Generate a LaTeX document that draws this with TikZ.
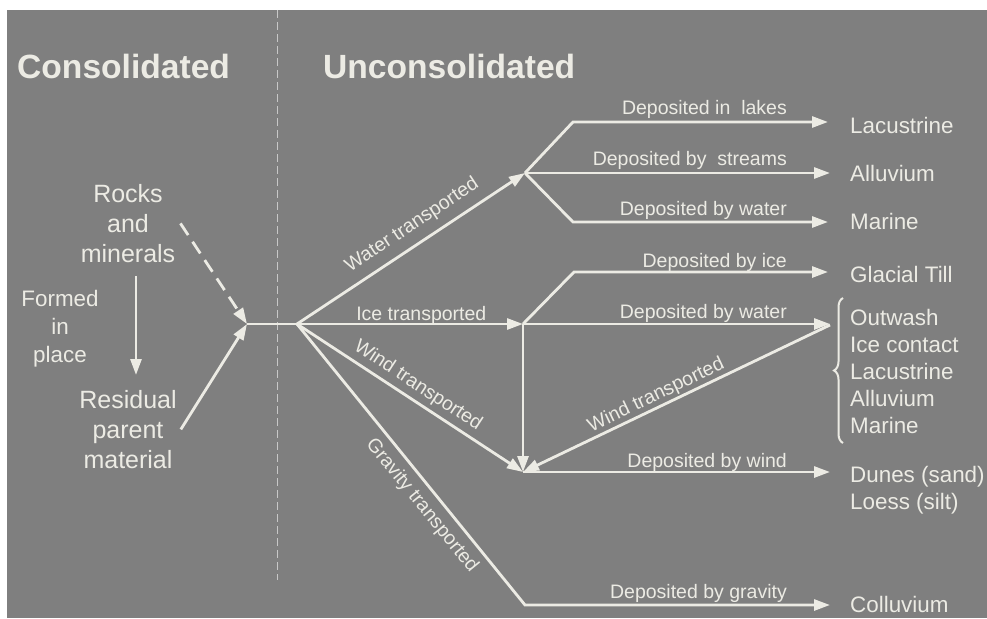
\documentclass[tikz,border=0pt]{standalone}
\usepackage{fontspec}
\setmainfont{Liberation Sans}
\usetikzlibrary{arrows.meta,decorations.pathreplacing}
\definecolor{bg}{RGB}{127,127,127}
\definecolor{fg}{RGB}{236,235,228}
\definecolor{divc}{RGB}{200,200,200}
\begin{document}
\begin{tikzpicture}[x=1pt,y=-1pt,
  txt/.style={inner sep=0pt, text=fg},
  head/.style={txt, font=\bfseries\fontsize{33.6}{40}\selectfont},
  big/.style={txt, font=\fontsize{25}{30}\selectfont, align=center},
  mid/.style={txt, font=\fontsize{22.4}{28}\selectfont, align=center},
  res/.style={txt, font=\fontsize{22.4}{27}\selectfont, align=left},
  lab/.style={txt, font=\fontsize{19.5}{23}\selectfont},
  conn/.style={draw=fg, line width=2.8pt},
  arr/.style={conn, -{Triangle[length=16pt,width=11pt]}},
  rarr/.style={conn, {Triangle[length=16pt,width=11pt]}-},
]
\useasboundingbox (0,0) rectangle (987,618);
\fill[white] (0,0) rectangle (987,618);
\fill[bg] (7,10) rectangle (987,618);
\draw[divc, line width=1pt, dash pattern=on 8pt off 4pt] (277,10) -- (277,580);

% headings
\node[head, anchor=base west] (cons) at (17,78) {Consolidated};
\node[head, anchor=base west] (uncons) at (323,78) {Unconsolidated};

% left side
\node[big, anchor=north] (rocks) at (128,184) {Rocks\\and\\minerals};
\node[mid, anchor=north] (formed) at (60,290) {Formed\\in\\place};
\node[big, anchor=north] (resid) at (128,390) {Residual\\parent\\material};

% hubs
\coordinate (J) at (247,324);
\coordinate (H) at (297,324);
\coordinate (W) at (525,173);
\coordinate (I) at (523,324);
\coordinate (V) at (523,472);
\coordinate (O) at (830,325);
\coordinate (G) at (525,605);
\coordinate (w1) at (573,122);
\coordinate (w3) at (573,222);
\coordinate (i1) at (574,272);

% results
\node[res, anchor=base west] (lac) at (850,133) {Lacustrine};
\node[res, anchor=base west] (allu) at (850,181) {Alluvium};
\node[res, anchor=base west] (mar) at (850,229) {Marine};
\node[res, anchor=base west] (till) at (850,282) {Glacial Till};
\node[res, anchor=north west] (outw) at (850,309) {Outwash\\Ice contact\\Lacustrine\\Alluvium\\Marine};
\node[res, anchor=north west] (dunes) at (850,466) {Dunes (sand)\\Loess (silt)};
\node[res, anchor=base west] (coll) at (850,612) {Colluvium};

% deposition labels
\node[lab, anchor=base east] (d1) at (787,114) {Deposited in\ \ lakes};
\node[lab, anchor=base east] (d2) at (787,165) {Deposited by\ \ streams};
\node[lab, anchor=base east] (d3) at (787,215) {Deposited by water};
\node[lab, anchor=base east] (d4) at (787,267) {Deposited by ice};
\node[lab, anchor=base east] (d5) at (787,318) {Deposited by water};
\node[lab, anchor=base east] (d6) at (787,467) {Deposited by wind};
\node[lab, anchor=base east] (d7) at (787,598) {Deposited by gravity};

% left connectors
\draw[arr] ([xshift=8pt,yshift=-13pt]rocks.south) -- ([xshift=8pt,yshift=15pt]resid.north);
\draw[arr, dash pattern=on 14pt off 8pt] ([xshift=5pt]rocks.east) -- (J);
\draw[arr] ([xshift=4pt]resid.east) -- (J);
\draw[conn] (J) -- (H);

% transport
\draw[arr] (H) -- node[lab, sloped, pos=0.55, above=8pt] (wt) {Water transported} (W);
\draw[arr] (H) -- node[lab, pos=0.55, anchor=base, yshift=4pt] (it) {Ice transported} (I);
\draw[arr] (H) -- node[lab, sloped, pos=0.5, above=4pt] (wdt) {Wind transported} (V);
\draw[arr, shorten >=20pt] (H) -- node[lab, sloped, pos=0.607, below=7pt] (gt) {Gravity transported} (G) -- (G -| coll.west);

% water branches
\draw[arr, shorten >=22pt] (W) -- (w1) -- (w1 -| lac.west);
\draw[arr, shorten >=20pt] (W) -- (W -| allu.west);
\draw[arr, shorten >=22pt] (W) -- (w3) -- (w3 -| mar.west);

% ice branches
\draw[arr, shorten >=22pt] (I) -- (i1) -- (i1 -| till.west);
\draw[arr, shorten >=20pt] (I) -- (I -| outw.west);
\draw[arr] (I) -- (V);

% wind
\draw[rarr] (V) -- node[lab, sloped, pos=0.45, above=1pt] (wdt2) {Wind transported} (O);
\draw[arr, shorten >=20pt] (V) -- (V -| dunes.west);

% brace
\draw[fg, line width=2pt, decorate, decoration={brace, amplitude=9pt}] (843,443) -- (843,298);
\end{tikzpicture}
\end{document}
